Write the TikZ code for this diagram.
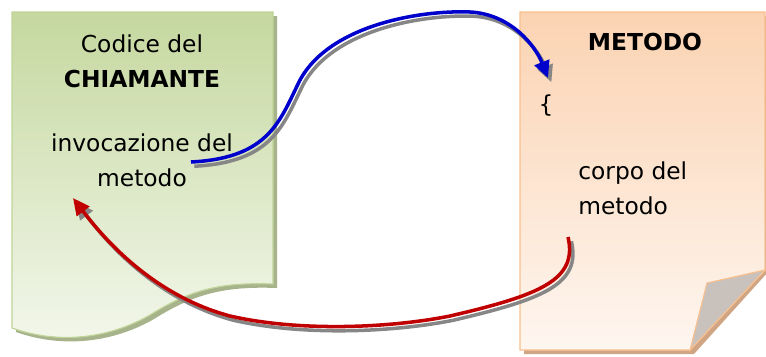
\documentclass[tikz,border=0pt]{standalone}
\usepackage{fontspec}
\setmainfont{DejaVu Sans}
\usetikzlibrary{arrows.meta}

\definecolor{verdeTop}{HTML}{C5D89F}
\definecolor{verdeBot}{HTML}{F3F7EC}
\definecolor{verdeBordo}{HTML}{C0D498}
\definecolor{verdeOmbra}{HTML}{A7B38B}
\definecolor{aranTop}{HTML}{FBD3B2}
\definecolor{aranBot}{HTML}{FEF6F0}
\definecolor{aranBordo}{HTML}{F9C08E}
\definecolor{aranOmbra}{HTML}{CFA584}
\definecolor{piega}{HTML}{C9C2BC}
\definecolor{blu}{HTML}{0000CC}
\definecolor{rosso}{HTML}{C00000}

\tikzset{
    testo/.style={font=\fontsize{16.6}{25}\selectfont, inner sep=0pt, align=center},
    freccia/.style={line width=2.5pt, -{Triangle[length=12pt,width=11pt]}},
    ombra/.style={freccia, draw=gray!95, transform canvas={xshift=2.4pt,yshift=-3pt}}
}

\begin{document}
\begin{tikzpicture}[x=0.025cm, y=-0.025cm]
        \useasboundingbox (0,0) rectangle (766,356);

        % foglio del chiamante
        \fill[verdeOmbra] (16,16) -- (277,16) -- (277,288)
            .. controls (224,286) and (194,294) .. (154,319)
            .. controls (114,342) and (64,349) .. (16,332) -- cycle;
        \shade[top color=verdeTop, bottom color=verdeBot, draw=verdeBordo, thick]
            (12,12) -- (273,12) -- (273,284)
            .. controls (220,282) and (190,290) .. (150,315)
            .. controls (110,338) and (60,345) .. (12,328) -- cycle;

        % foglio del metodo
        \fill[aranOmbra] (524,16) -- (768,16) -- (768,272) -- (694,354) -- (524,354) -- cycle;
        \shade[top color=aranTop, bottom color=aranBot, draw=aranBordo, thick]
            (520,12) -- (765,12) -- (765,270) -- (690,350) -- (520,350) -- cycle;
        \filldraw[fill=piega, draw=aranBordo, thick] (707,283) -- (765,270) -- (690,350) -- cycle;

        \node[testo] (chiamante) at (142,61) {Codice del\\\textbf{CHIAMANTE}};
        \node[testo] (invoca) at (142,160) {invocazione del\\metodo};
        \node[testo] (metodo) at (645,42) {\textbf{METODO}};
        \node[testo] (graffa) at (546,106) {\{};
        \node[testo, align=left, anchor=west] (corpo) at (578,188) {corpo del\\metodo};

        \coordinate (chiamata) at (191,162);
        \coordinate (ingresso) at (548,78);
        \coordinate (uscita) at (568,237);
        \coordinate (ritorno) at (73,198);

        % andata
        \draw[ombra] (chiamata) .. controls (270,158) and (280,120) .. (300,80)
            .. controls (330,25) and (420,10) .. (470,12)
            .. controls (510,14) and (535,45) .. (ingresso);
        \draw[freccia, blu] (chiamata) .. controls (270,158) and (280,120) .. (300,80)
            .. controls (330,25) and (420,10) .. (470,12)
            .. controls (510,14) and (535,45) .. (ingresso);

        % ritorno
        \draw[ombra] (uscita) .. controls (578,280) and (540,295) .. (450,316)
            .. controls (390,328) and (300,332) .. (230,316)
            .. controls (170,300) and (120,260) .. (ritorno);
        \draw[freccia, rosso] (uscita) .. controls (578,280) and (540,295) .. (450,316)
            .. controls (390,328) and (300,332) .. (230,316)
            .. controls (170,300) and (120,260) .. (ritorno);
\end{tikzpicture}
\end{document}
